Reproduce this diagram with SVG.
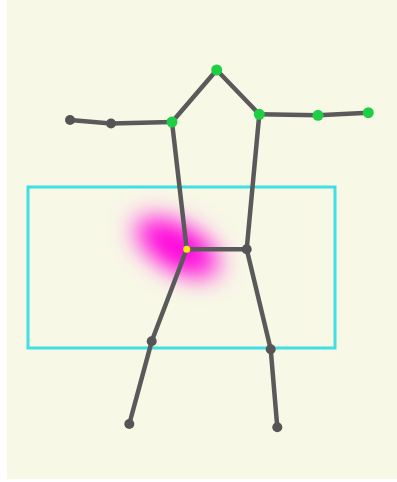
<svg xmlns="http://www.w3.org/2000/svg" width="397" height="482" viewBox="0 0 397 482">
<style>
.bone{stroke:#5a5a5a;stroke-width:4.5;stroke-linecap:round;fill:none}
.g{fill:#1ecf45}
.d{fill:#555555}
</style>
<defs>
<filter id="blur" x="-100%" y="-100%" width="300%" height="300%">
<feGaussianBlur stdDeviation="13"/>
</filter>
</defs>
<rect x="0" y="0" width="397" height="482" fill="#ffffff"/>
<rect x="7" y="0" width="390" height="479" fill="#f8f8e7"/>
<rect x="28" y="187" width="307" height="161" fill="none" stroke="#3ee0e4" stroke-width="3"/>
<g filter="url(#blur)">
<ellipse cx="177" cy="247" rx="46" ry="21" fill="#ff00dc" transform="rotate(30 177 247)"/>
</g>
<ellipse cx="180" cy="249" rx="22" ry="11" fill="#ff00dc" opacity="0.6" filter="url(#blur)" transform="rotate(30 180 249)"/>
<g id="connectors">
<line class="bone" x1="70" y1="120" x2="111" y2="123.5"/>
<line class="bone" x1="111" y1="123.5" x2="172" y2="122"/>
<line class="bone" x1="172" y1="122" x2="216.7" y2="70"/>
<line class="bone" x1="216.7" y1="70" x2="259.3" y2="114.3"/>
<line class="bone" x1="259.3" y1="114.3" x2="318" y2="115.3"/>
<line class="bone" x1="318" y1="115.3" x2="368.3" y2="112.7"/>
<line class="bone" x1="172" y1="122" x2="186.7" y2="249.3"/>
<line class="bone" x1="259.3" y1="114.3" x2="246.7" y2="249.3"/>
<line class="bone" x1="186.7" y1="249.3" x2="246.7" y2="249.3"/>
<line class="bone" x1="186.7" y1="249.3" x2="151.7" y2="341.3"/>
<line class="bone" x1="151.7" y1="341.3" x2="129.3" y2="424"/>
<line class="bone" x1="246.7" y1="249.3" x2="270.7" y2="349.3"/>
<line class="bone" x1="270.7" y1="349.3" x2="277.3" y2="427.3"/>
</g>
<g id="head"><circle class="g" cx="216.7" cy="70" r="5.5"/></g>
<g id="l_shoulder"><circle class="g" cx="172" cy="122" r="5.5"/></g>
<g id="r_shoulder"><circle class="g" cx="259.3" cy="114.3" r="5.5"/></g>
<g id="r_elbow"><circle class="g" cx="318" cy="115.3" r="5.5"/></g>
<g id="r_wrist"><circle class="g" cx="368.3" cy="112.7" r="5.5"/></g>
<g id="l_elbow"><circle class="d" cx="111" cy="123.5" r="5"/></g>
<g id="l_wrist"><circle class="d" cx="70" cy="120" r="5"/></g>
<g id="l_hip"><circle fill="#ffe81a" cx="186.7" cy="249.3" r="3.5"/></g>
<g id="r_hip"><circle class="d" cx="246.7" cy="249.3" r="5"/></g>
<g id="l_knee"><circle class="d" cx="151.7" cy="341.3" r="5"/></g>
<g id="r_knee"><circle class="d" cx="270.7" cy="349.3" r="5"/></g>
<g id="l_ankle"><circle class="d" cx="129.3" cy="424" r="5"/></g>
<g id="r_ankle"><circle class="d" cx="277.3" cy="427.3" r="5"/></g>
</svg>
